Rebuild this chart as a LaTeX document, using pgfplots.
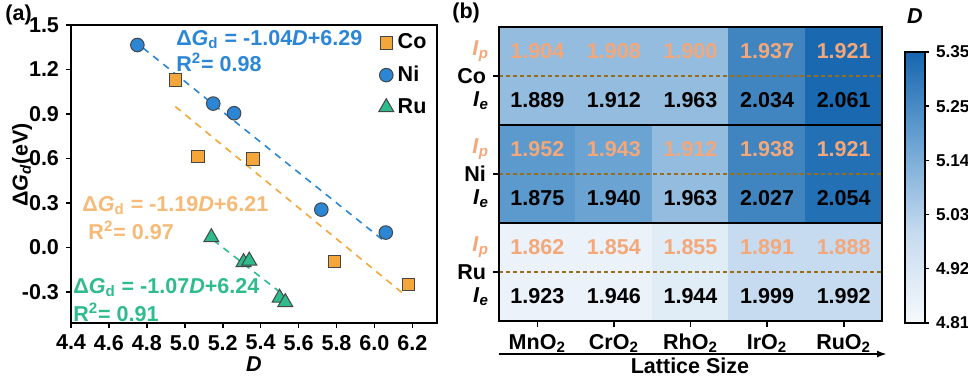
\documentclass[border=0pt]{standalone}
\usepackage{fontspec}
\setmainfont{Liberation Sans}
\usepackage{pgfplots}
\pgfplotsset{compat=1.18}
\usetikzlibrary{arrows.meta}

\newcommand{\F}{\fontsize{10.8}{13}\selectfont\bfseries}
\newcommand{\Fs}{\fontsize{8.6}{10}\selectfont\bfseries}

\definecolor{niblue}{RGB}{44,134,214}
\definecolor{coorange}{RGB}{245,166,58}
\definecolor{rugreen}{RGB}{46,188,140}
\definecolor{cotext}{RGB}{247,186,118}
\definecolor{edgegray}{RGB}{70,70,70}
\definecolor{ipc}{RGB}{244,168,122}
\definecolor{brownd}{RGB}{150,110,30}

\newcommand{\Ip}{\textcolor{ipc}{\textit{I}\textsubscript{\textit{p}}}}
\newcommand{\Ie}{\textit{I}\textsubscript{\textit{e}}}

\begin{document}
\begin{tikzpicture}[font=\F]
\path[use as bounding box] (0,0) rectangle (484bp,-189bp);

% ---------------- (a) scatter
\begin{axis}[
    at={(35.5bp,-161.5bp)}, anchor=south west,
    scale only axis, width=183bp, height=149bp,
    xmin=4.4, xmax=6.33, ymin=-0.51, ymax=1.5,
    xtick={4.4,4.6,4.8,5.0,5.2,5.4,5.6,5.8,6.0,6.2},
    ytick={-0.3,0,0.3,0.6,0.9,1.2,1.5},
    tick align=outside, xtick pos=left, ytick pos=left,
    major tick length=2.5bp,
    axis line style={line width=1bp},
    every tick/.style={black, line width=0.8bp},
    tick label style={font=\F, /pgf/number format/assume math mode=true,
        /pgf/number format/.cd, fixed, fixed zerofill, precision=1, /tikz/.cd},
    xlabel={\textit{D}}, ylabel={Δ\textit{G}\textsubscript{\textit{d}}(eV)},
    label style={font=\F},
    xlabel style={at={(axis description cs:0.5,-0.137)}, anchor=center, inner sep=0pt},
    ylabel style={at={(axis description cs:-0.134,0.53)}, anchor=center, inner sep=0pt},
    clip=false,
    legend style={draw=none, fill=none, at={(0.84,0.985)}, anchor=north west,
        font=\F, row sep=3bp, inner sep=0pt,
        every odd column/.style={column sep=3bp}},
    legend cell align=left,
]
\addplot[only marks, mark=square*, mark size=3.1bp,
    mark options={fill=coorange, draw=edgegray, line width=0.5bp}]
    coordinates {(4.95,1.13) (5.07,0.615) (5.36,0.595) (5.79,-0.095) (6.18,-0.25)};
\addlegendentry{Co}
\addplot[only marks, mark=*, mark size=3.4bp,
    mark options={fill=niblue, draw=edgegray, line width=0.5bp}]
    coordinates {(4.75,1.365) (5.15,0.97) (5.26,0.905) (5.72,0.255) (6.06,0.10)};
\addlegendentry{Ni}
\addplot[only marks, mark=triangle*, mark size=4.3bp,
    mark options={fill=rugreen, draw=edgegray, line width=0.5bp}]
    coordinates {(5.14,0.068) (5.31,-0.10) (5.34,-0.09) (5.50,-0.34) (5.53,-0.37)};
\addlegendentry{Ru}
% fitted lines (as drawn in the figure)
\addplot[forget plot, niblue, line width=0.8bp, dash pattern=on 3.5bp off 3bp]
    coordinates {(4.78,1.345) (6.06,0.034)};
\addplot[forget plot, coorange, line width=0.8bp, dash pattern=on 3.5bp off 3bp]
    coordinates {(4.95,0.95) (6.15,-0.31)};
\addplot[forget plot, rugreen, line width=0.8bp, dash pattern=on 3.5bp off 3bp]
    coordinates {(5.15,0.05) (5.50,-0.30)};
\node[anchor=west, inner sep=0pt, text=niblue] at (axis cs:4.953,1.40)
    {Δ\textit{G}\textsubscript{d} = -1.04\textit{D}+6.29};
\node[anchor=west, inner sep=0pt, text=niblue] at (axis cs:4.953,1.25)
    {R\textsuperscript{2}= 0.98};
\node[anchor=west, inner sep=0pt, text=cotext] at (axis cs:4.458,0.284)
    {Δ\textit{G}\textsubscript{d} = -1.19\textit{D}+6.21};
\node[anchor=west, inner sep=0pt, text=cotext] at (axis cs:4.49,0.115)
    {R\textsuperscript{2}= 0.97};
\node[anchor=west, inner sep=0pt, text=rugreen] at (axis cs:4.41,-0.27)
    {Δ\textit{G}\textsubscript{d} = -1.07\textit{D}+6.24};
\node[anchor=west, inner sep=0pt, text=rugreen] at (axis cs:4.41,-0.44)
    {R\textsuperscript{2}= 0.91};
\end{axis}

% ---------------- (b) heatmap
\begin{axis}[
    at={(249.5bp,-160.5bp)}, anchor=south west,
    scale only axis, width=191.5bp, height=147bp,
    xmin=-0.5, xmax=4.5, ymin=-0.5, ymax=2.5,
    xtick={0,1,2,3,4},
    xticklabels={MnO\textsubscript{2},CrO\textsubscript{2},RhO\textsubscript{2},IrO\textsubscript{2},RuO\textsubscript{2}},
    ytick={0,1,2}, yticklabels={Ru,Ni,Co},
    extra y ticks={-0.25,0.25,0.75,1.25,1.75,2.25},
    extra y tick labels={\Ie,\Ip,\Ie,\Ip,\Ie,\Ip},
    extra y tick style={major tick length=0pt, yticklabel style={xshift=-1.5bp}},
    tick align=outside, xtick pos=left, ytick pos=left,
    major tick length=3bp,
    axis line style={line width=1bp},
    every tick/.style={black, line width=0.8bp},
    tick label style={font=\F},
    axis on top,
    colormap={dblue}{rgb255(0cm)=(245,249,252); rgb255(1cm)=(198,219,239);
        rgb255(2cm)=(107,163,210); rgb255(3cm)=(22,102,174)},
    point meta min=4.81, point meta max=5.35,
    colorbar,
    colorbar style={
        at={(parent axis.north east)}, anchor=north west,
        xshift=3bp, yshift=-12.5bp,
        scale only axis, width=10bp, height=135.5bp,
        ytick={4.81,4.918,5.026,5.134,5.242,5.35},
        yticklabels={4.81,4.92,5.03,5.14,5.25,5.35},
        yticklabel style={font=\Fs},
        ytick pos=right, tick align=outside, major tick length=2bp,
        axis line style={line width=0.8bp},
        every tick/.style={black, line width=0.7bp},
        title={\textit{D}}, title style={font=\F, at={(0.5,1)}, anchor=south, yshift=5bp},
    },
]
\addplot[matrix plot*, mesh/cols=5, point meta=explicit] table[meta=D] {
x y D
0 0 4.85
1 0 4.85
2 0 4.89
3 0 4.99
4 0 4.99
0 1 5.20
1 1 5.17
2 1 5.09
3 1 5.26
4 1 5.32
0 2 5.09
1 2 5.09
2 2 5.09
3 2 5.26
4 2 5.34
};
% dashed divisions between Ip and Ie
\addplot[forget plot, brownd, line width=0.6bp, dash pattern=on 2bp off 1.5bp]
    coordinates {(-0.5,0) (4.5,0)};
\addplot[forget plot, brownd, line width=0.6bp, dash pattern=on 2bp off 1.5bp]
    coordinates {(-0.5,1) (4.5,1)};
\addplot[forget plot, brownd, line width=0.6bp, dash pattern=on 2bp off 1.5bp]
    coordinates {(-0.5,2) (4.5,2)};
% block separators
\addplot[forget plot, black, line width=1bp] coordinates {(-0.5,0.5) (4.5,0.5)};
\addplot[forget plot, black, line width=1bp] coordinates {(-0.5,1.5) (4.5,1.5)};
% Ip values
\addplot[draw=none, mark=none, nodes near coords, point meta=explicit symbolic,
    nodes near coords align=center,
    every node near coord/.append style={font=\F, text=ipc}]
    table[meta=v] {
x y v
0 2.25 1.904
1 2.25 1.908
2 2.25 1.900
3 2.25 1.937
4 2.25 1.921
0 1.25 1.952
1 1.25 1.943
2 1.25 1.912
3 1.25 1.938
4 1.25 1.921
0 0.25 1.862
1 0.25 1.854
2 0.25 1.855
3 0.25 1.891
4 0.25 1.888
};
% Ie values
\addplot[draw=none, mark=none, nodes near coords, point meta=explicit symbolic,
    nodes near coords align=center,
    every node near coord/.append style={font=\F, text=black}]
    table[meta=v] {
x y v
0 1.75 1.889
1 1.75 1.912
2 1.75 1.963
3 1.75 2.034
4 1.75 2.061
0 0.75 1.875
1 0.75 1.940
2 0.75 1.963
3 0.75 2.027
4 0.75 2.054
0 -0.25 1.923
1 -0.25 1.946
2 -0.25 1.944
3 -0.25 1.999
4 -0.25 1.992
};
\end{axis}

\draw[line width=1bp, -{Latex[length=5bp,width=3.5bp]}] (249.5bp,-177bp) -- (443.5bp,-177bp);
\node[inner sep=0pt] at (345bp,-183bp) {Lattice Size};
\node[anchor=west, inner sep=0pt] at (2.5bp,-7.5bp) {(a)};
\node[anchor=west, inner sep=0pt] at (226bp,-6.5bp) {(b)};
\end{tikzpicture}
\end{document}
